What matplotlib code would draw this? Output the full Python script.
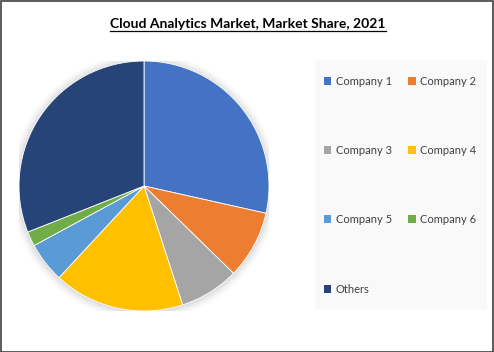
import matplotlib.pyplot as plt
from matplotlib.patches import Patch, Circle
from matplotlib.lines import Line2D

# Market share (%), clockwise from 12 o'clock
companies = ['Company 1', 'Company 2', 'Company 3', 'Company 4',
             'Company 5', 'Company 6', 'Others']
shares = [28.5, 8.8, 7.7, 16.9, 5.2, 1.9, 31.0]
colors = ['#4472C4', '#ED7D31', '#A5A5A5', '#FFC000',
          '#5B9BD5', '#70AD47', '#264478']
title = 'Cloud Analytics Market, Market Share, 2021'

plt.rcParams['font.family'] = ['Lato', 'DejaVu Sans']

W, H = 494, 352
fig = plt.figure(figsize=(W / 100, H / 100), dpi=100)
fig.patch.set_facecolor('white')

# outer frame
fig.add_artist(plt.Rectangle((0.5 / W, 0.5 / H), 1 - 1.5 / W, 1 - 1.5 / H,
                             transform=fig.transFigure, fill=False,
                             edgecolor='#404040', linewidth=1.2))

# pie axes: centre (144, 186) px, radius 125 px
cx, cy, r = 144, 186, 125
ax = fig.add_axes([(cx - r) / W, (H - cy - r) / H, 2 * r / W, 2 * r / H])

# soft glow around the pie
for i, a in enumerate([0.012, 0.015, 0.018, 0.022, 0.026, 0.03]):
    ax.add_patch(Circle((0.0, -0.005), 1.07 - i * 0.012, color='black',
                        alpha=a, lw=0, zorder=0))

wedges, _ = ax.pie(shares, colors=colors, startangle=90, counterclock=False,
                   wedgeprops=dict(linewidth=0.6, edgecolor='white'))
for w in wedges:
    w.set_zorder(2)
ax.set_xlim(-1, 1)
ax.set_ylim(-1, 1)
ax.set_aspect('equal')
ax.axis('off')

# legend panel
fig.add_artist(plt.Rectangle((315 / W, (H - 310) / H), 172 / W, 250 / H,
                             transform=fig.transFigure, facecolor='#F9F9F9',
                             edgecolor='none'))
# legend fills columns first; reorder so it reads row by row
order = [0, 2, 4, 6, 1, 3, 5]
handles = [Patch(facecolor=colors[i], edgecolor='none') for i in order]
labels = [companies[i] for i in order]
fig.legend(handles, labels, ncol=2, loc='upper left',
           bbox_to_anchor=(318 / W, (H - 70) / H), frameon=False,
           fontsize=8, handlelength=0.7, handleheight=0.7, handletextpad=0.4,
           columnspacing=1.45, labelspacing=5.25, borderpad=0,
           labelcolor='#404040')

# title with underline
t = fig.text(248 / W, 1 - 24 / H, title, ha='center', va='center',
             fontsize=10, fontweight='bold', color='black')
fig.canvas.draw()
bb = t.get_window_extent(fig.canvas.get_renderer())
uy = bb.y0 - 1
fig.add_artist(Line2D([bb.x0 / W, bb.x1 / W], [uy / H, uy / H],
                      transform=fig.transFigure, color='black', lw=0.9))

fig.savefig('out.png', dpi=100)
